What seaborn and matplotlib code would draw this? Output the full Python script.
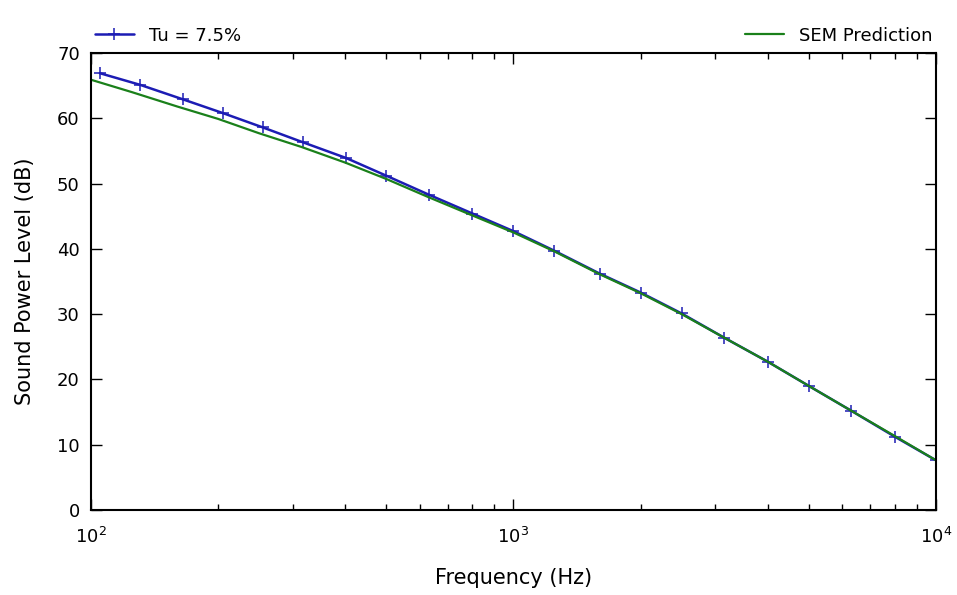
import numpy as np
import pandas as pd
import seaborn as sns
import matplotlib
matplotlib.use("Agg")
from matplotlib import pyplot as plt

# measured spectrum, one-third octave bands
freq_meas = [105, 131, 165, 205, 255, 318, 402, 500, 630, 800, 1000,
             1250, 1600, 2000, 2500, 3150, 4000, 5000, 6300, 8000, 10000]
spl_meas = [66.9, 65.1, 62.9, 60.8, 58.6, 56.3, 53.9, 51.2, 48.3, 45.4, 42.7,
            39.7, 36.2, 33.3, 30.1, 26.4, 22.7, 19.0, 15.2, 11.2, 7.6]

# SEM prediction
freq_sem = [100, 125, 160, 200, 250, 315, 400, 500, 630, 800, 1000,
            1250, 1600, 2000, 2500, 3150, 4000, 5000, 6300, 8000, 10000]
spl_sem = [65.9, 64.0, 61.8, 59.9, 57.7, 55.6, 53.2, 50.7, 47.9, 45.1, 42.5,
           39.6, 36.1, 33.2, 30.0, 26.4, 22.7, 19.0, 15.2, 11.3, 7.6]

sns.set_style("ticks")
plt.rcParams['font.family'] = ['DejaVu Sans']
plt.rcParams['xtick.direction'] = 'in'
plt.rcParams['ytick.direction'] = 'in'
plt.rcParams['text.color'] = 'black'
plt.rcParams['axes.labelcolor'] = 'black'
plt.rcParams['xtick.color'] = 'black'
plt.rcParams['ytick.color'] = 'black'

meas = pd.DataFrame({'f': freq_meas, 'spl': spl_meas})
sem = pd.DataFrame({'f': freq_sem, 'spl': spl_sem})

fig = plt.figure(figsize=(9.57, 5.95), dpi=100)
ax = fig.add_axes([0.095, 0.143, 0.883, 0.768])

blue = '#1c1cb4'
green = '#1a801a'
sns.lineplot(data=meas, x='f', y='spl', ax=ax, color=blue, marker='+',
             markersize=8, markeredgewidth=1.1, markeredgecolor=blue,
             linewidth=1.8, label='Tu = 7.5%')
sns.lineplot(data=sem, x='f', y='spl', ax=ax, color=green,
             linewidth=1.6, label='SEM Prediction')

ax.set_xscale('log')
ax.set_xlim(100, 10000)
ax.set_ylim(0, 70)
ax.set_yticks(range(0, 71, 10))
ax.set_xlabel('Frequency (Hz)', fontsize=15, labelpad=15)
ax.set_ylabel('Sound Power Level (dB)', fontsize=15, labelpad=16)
ax.tick_params(axis='both', which='major', labelsize=13, length=8, width=1,
               top=True, right=True, pad=8, color='black', labelcolor='black')
ax.tick_params(axis='x', which='major', pad=12)
ax.tick_params(axis='x', which='minor', length=4, width=1, top=True, bottom=True)
for s in ax.spines.values():
    s.set_visible(True)
    s.set_linewidth(1.5)
    s.set_color('black')

ax.legend(loc='lower left', bbox_to_anchor=(0, 1.01, 1, 0.1), mode='expand',
          ncol=2, frameon=False, fontsize=13, handlelength=2.2,
          borderaxespad=0, borderpad=0.2)

fig.savefig('out.png', dpi=100)
